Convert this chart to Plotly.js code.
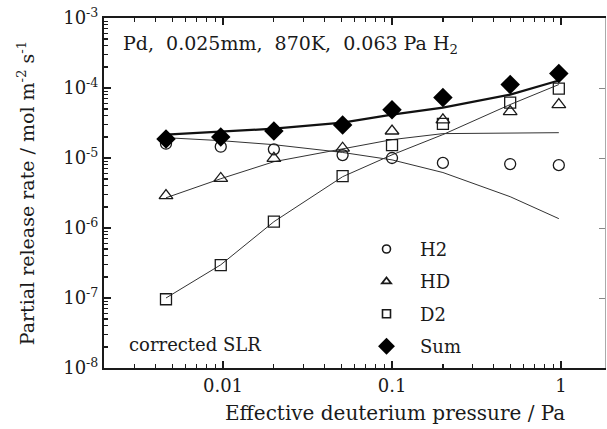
<!DOCTYPE html>
<html>
<head>
<meta charset="utf-8">
<script src="https://cdn.plot.ly/plotly-3.0.1.min.js"></script>
<style>html,body{margin:0;padding:0;background:#fff;overflow:hidden}#chart{width:607px;height:429px}</style>
</head>
<body>
<div id="chart"></div>
<script>
// Effective deuterium pressure (Pa)
const pressure = [0.0046, 0.0097, 0.02, 0.051, 0.1, 0.2, 0.5, 0.97];
// Measured partial release rates (mol m^-2 s^-1)
const h2 = [1.6e-5, 1.45e-5, 1.33e-5, 1.1e-5, 1.0e-5, 8.5e-6, 8.2e-6, 7.9e-6];
const hd = [2.9e-6, 5.1e-6, 9.9e-6, 1.38e-5, 2.43e-5, 3.5e-5, 4.6e-5, 5.8e-5];
const d2 = [9.6e-8, 2.95e-7, 1.23e-6, 5.5e-6, 1.53e-5, 3.07e-5, 6.2e-5, 9.8e-5];
const sum = [1.87e-5, 2.0e-5, 2.43e-5, 2.97e-5, 4.9e-5, 7.3e-5, 1.12e-4, 1.61e-4];
// Fitted curves
const fitP = [0.0046, 0.0097, 0.02, 0.051, 0.1, 0.2, 0.5, 0.97];
const fitH2 = [1.95e-5, 1.77e-5, 1.55e-5, 1.2e-5, 9.4e-6, 6.2e-6, 2.8e-6, 1.36e-6];
const fitHD = [2.7e-6, 5.06e-6, 8.85e-6, 1.35e-5, 1.83e-5, 2.23e-5, 2.3e-5, 2.3e-5];
const fitD2 = [1.0e-7, 2.98e-7, 1.23e-6, 5.4e-6, 1.11e-5, 2.16e-5, 5.8e-5, 1.12e-4];
const fitSum = [2.16e-5, 2.38e-5, 2.62e-5, 3.2e-5, 4.16e-5, 5.25e-5, 8.05e-5, 1.28e-4];
// Legend names
const seriesNames = ['H2', 'HD', 'D2', 'Sum'];
// Axis ticks
const xTickVals = [0.01, 0.1, 1];
const xTickText = ['0.01', '0.1', '1'];
const yTickVals = [1e-8, 1e-7, 1e-6, 1e-5, 1e-4, 1e-3];
const yTickText = ['10<sup>-8</sup>', '10<sup>-7</sup>', '10<sup>-6</sup>', '10<sup>-5</sup>', '10<sup>-4</sup>', '10<sup>-3</sup>'];
const minorMult = [2, 3, 4, 5, 6, 7, 8, 9];
const xDecades = [0.001, 0.01, 0.1, 1];
const yDecades = [1e-8, 1e-7, 1e-6, 1e-5, 1e-4];

const xMinor = [];
xDecades.forEach(d => minorMult.forEach(m => xMinor.push(d * m)));
const yMinor = [];
yDecades.forEach(d => minorMult.forEach(m => yMinor.push(d * m)));

const serif = 'DejaVu Serif, serif';
const ink = '#1a1a1a';
const fitLine = {color: '#333', width: 1};

const markerStyles = [
  {symbol: 'circle-open', size: 11, color: ink, line: {width: 1.3}},
  {symbol: 'triangle-up-open', size: 12, color: ink, line: {width: 1.3}},
  {symbol: 'square-open', size: 11, color: ink, line: {width: 1.3}},
  {symbol: 'diamond', size: 15, color: '#000'}
];
const legendMarkers = [
  {symbol: 'circle-open', size: 8, color: ink, line: {width: 1.6}},
  {symbol: 'triangle-up-open', size: 8, color: ink, line: {width: 1.8}},
  {symbol: 'square-open', size: 8, color: ink, line: {width: 1.6}},
  {symbol: 'diamond', size: 13, color: '#000'}
];
const seriesY = [h2, hd, d2, sum];

const traces = [
  {x: fitP, y: fitH2, mode: 'lines', line: fitLine, showlegend: false, hoverinfo: 'skip'},
  {x: fitP, y: fitHD, mode: 'lines', line: fitLine, showlegend: false, hoverinfo: 'skip'},
  {x: fitP, y: fitD2, mode: 'lines', line: fitLine, showlegend: false, hoverinfo: 'skip'},
  {x: fitP, y: fitSum, mode: 'lines', line: {color: '#111', width: 2.2}, showlegend: false, hoverinfo: 'skip'}
];
seriesY.forEach((ys, i) => {
  traces.push({x: pressure, y: ys, mode: 'markers', showlegend: false, marker: markerStyles[i]});
});
seriesNames.forEach((nm, i) => {
  traces.push({x: [null], y: [null], mode: 'markers', name: nm, legendgroup: 'g' + i, marker: legendMarkers[i]});
});
traces.push({x: pressure, y: sum, mode: 'markers', yaxis: 'y2', showlegend: false, hoverinfo: 'skip',
             marker: {size: 0.1, opacity: 0}});

const yRange = [-8, -3];
const tickFont = {family: serif, size: 18, color: ink};
const layout = {
  width: 607, height: 429,
  margin: {l: 104, r: 2, t: 18, b: 61},
  paper_bgcolor: '#fff', plot_bgcolor: '#fff',
  font: {family: serif, color: ink, size: 18},
  showlegend: true,
  legend: {x: 0.497, y: 0.392, xanchor: 'left', yanchor: 'top', bgcolor: 'rgba(0,0,0,0)',
           font: {family: serif, size: 18, color: ink}, traceorder: 'grouped',
           tracegroupgap: 6, itemwidth: 57},
  xaxis: {type: 'log', range: [-2.704, 0.26], tickmode: 'array', tickvals: xTickVals, ticktext: xTickText,
          ticks: 'inside', ticklen: 7, tickwidth: 1.2, tickcolor: ink,
          showline: true, linecolor: ink, linewidth: 2, mirror: 'ticks', showgrid: false, zeroline: false,
          tickfont: tickFont,
          minor: {tickmode: 'array', tickvals: xMinor, ticks: 'inside', ticklen: 4, tickcolor: ink, showgrid: false}},
  yaxis: {type: 'log', range: yRange, tickmode: 'array', tickvals: yTickVals, ticktext: yTickText,
          ticks: 'inside', ticklen: 7, tickwidth: 1.2, tickcolor: ink,
          showline: true, linecolor: ink, linewidth: 2, showgrid: false, zeroline: false,
          tickfont: tickFont,
          title: {text: 'Partial release rate / mol m<sup>-2</sup> s<sup>-1</sup>', font: {family: serif, size: 19, color: ink}, standoff: 24},
          minor: {tickmode: 'array', tickvals: yMinor, ticks: 'inside', ticklen: 4, tickcolor: ink, showgrid: false}},
  yaxis2: {type: 'log', range: yRange, overlaying: 'y', side: 'right', showticklabels: false,
           tickmode: 'array', tickvals: yTickVals, ticks: 'inside', ticklen: 6, tickcolor: '#888',
           showline: true, linecolor: '#aaa', linewidth: 1, showgrid: false, zeroline: false},
  annotations: [
    {xref: 'paper', yref: 'paper', x: 0.034, y: 0.923, xanchor: 'left', yanchor: 'middle', showarrow: false,
     text: 'Pd,  0.025mm,  870K,  0.063 Pa H<sub>2</sub>', font: {family: serif, size: 19, color: ink}},
    {xref: 'paper', yref: 'paper', x: 0.046, y: 0.066, xanchor: 'left', yanchor: 'middle', showarrow: false,
     text: 'corrected SLR', font: {family: serif, size: 18, color: ink}},
    {xref: 'paper', yref: 'paper', x: 0.58, y: -0.13, xanchor: 'center', yanchor: 'middle', showarrow: false,
     text: 'Effective deuterium pressure / Pa', font: {family: serif, size: 20, color: ink}}
  ]
};

Plotly.newPlot('chart', traces, layout, {displayModeBar: false, staticPlot: true});
</script>
</body>
</html>
